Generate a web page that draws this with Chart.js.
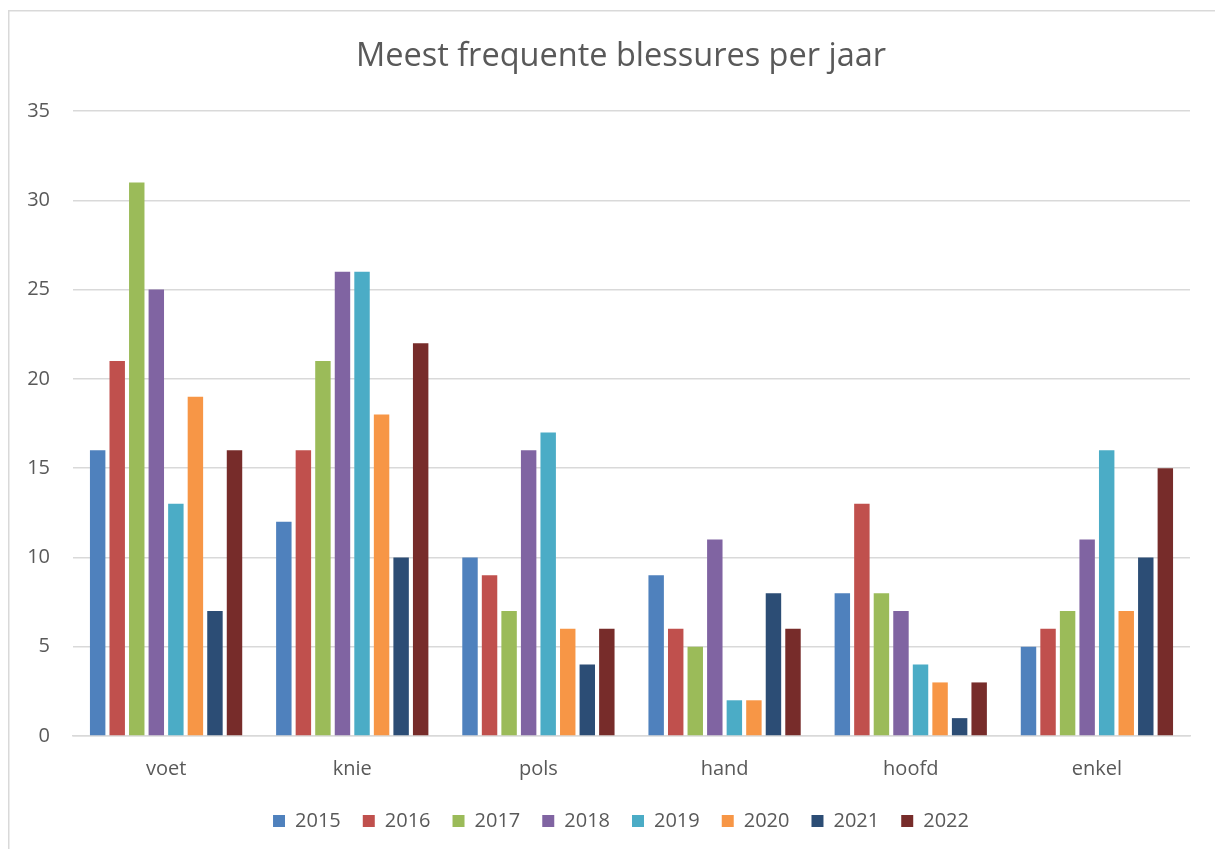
<!DOCTYPE html>
<html>
<head>
<meta charset="utf-8">
<script src="https://cdn.jsdelivr.net/npm/chart.js@4/dist/chart.umd.min.js"></script>
<style>
  html, body { margin: 0; padding: 0; background: #fff; }
</style>
</head>
<body>
<canvas id="grafiek" width="1215" height="849"></canvas>
<script>
// categorieen en waarden per jaar
const categorieen = ['voet', 'knie', 'pols', 'hand', 'hoofd', 'enkel'];
const jaren = ['2015', '2016', '2017', '2018', '2019', '2020', '2021', '2022'];
const j2015 = [16, 12, 10, 9, 8, 5];
const j2016 = [21, 16, 9, 6, 13, 6];
const j2017 = [31, 21, 7, 5, 8, 7];
const j2018 = [25, 26, 16, 11, 7, 11];
const j2019 = [13, 26, 17, 2, 4, 16];
const j2020 = [19, 18, 6, 2, 3, 7];
const j2021 = [7, 10, 4, 8, 1, 10];
const j2022 = [16, 22, 6, 6, 3, 15];
const yTicks = [0, 5, 10, 15, 20, 25, 30, 35];

const reeksen = [j2015, j2016, j2017, j2018, j2019, j2020, j2021, j2022];
const kleuren = ['#4f81bd', '#c0504d', '#9bbb59', '#8064a2', '#4bacc6', '#f79646', '#2c4d75', '#772c2a'];

const tekstKleur = '#595959';
const lijnKleur = '#d9d9d9';
const font = 'Open Sans';

// rand om de grafiek heen (loopt rechts en onder door)
const rand = {
    id: 'rand',
    afterLayout(chart) {
        // labels niet afknippen op de rand van de as
        chart.scales.y.left = 0;
        chart.scales.x.bottom = chart.height;
    },
    beforeDraw(chart) {
        const ctx = chart.ctx;
        ctx.save();
        ctx.fillStyle = '#fff';
        ctx.fillRect(0, 0, chart.width, chart.height);
        ctx.strokeStyle = lijnKleur;
        ctx.lineWidth = 1.5;
        ctx.strokeRect(8.75, 10.75, 1400, 1000);
        ctx.restore();
    }
};

new Chart(document.getElementById('grafiek').getContext('2d'), {
    type: 'bar',
    data: {
        labels: categorieen,
        datasets: jaren.map((jaar, i) => ({
            label: jaar,
            data: reeksen[i],
            backgroundColor: kleuren[i],
            borderWidth: 0,
            categoryPercentage: 0.84,
            barPercentage: 0.79
        }))
    },
    options: {
        responsive: false,
        animation: false,
        layout: { padding: { left: 52, right: 25, top: 0, bottom: 8 } },
        plugins: {
            title: {
                display: true,
                text: 'Meest frequente blessures per jaar',
                color: tekstKleur,
                font: { family: font, size: 32.5, weight: 'normal' },
                padding: { top: 37, bottom: 35 }
            },
            legend: {
                position: 'bottom',
                labels: {
                    color: tekstKleur,
                    font: { family: font, size: 20 },
                    boxWidth: 12,
                    boxHeight: 12,
                    padding: 22
                }
            },
            tooltip: { enabled: false }
        },
        scales: {
            x: {
                afterFit(scale) { scale.height = 53; },
                grid: { display: false },
                border: { color: lijnKleur, width: 1.5 },
                ticks: { color: tekstKleur, font: { family: font, size: 20 }, padding: 13 }
            },
            y: {
                min: 0,
                max: 35,
                afterFit(scale) { scale.width = 21; },
                afterBuildTicks(scale) { scale.ticks = yTicks.map(v => ({ value: v })); },
                grid: { color: lijnKleur, lineWidth: 1.5, drawTicks: false },
                border: { display: false },
                ticks: { color: tekstKleur, font: { family: font, size: 20 }, padding: 23 }
            }
        }
    },
    plugins: [rand]
});
</script>
</body>
</html>
